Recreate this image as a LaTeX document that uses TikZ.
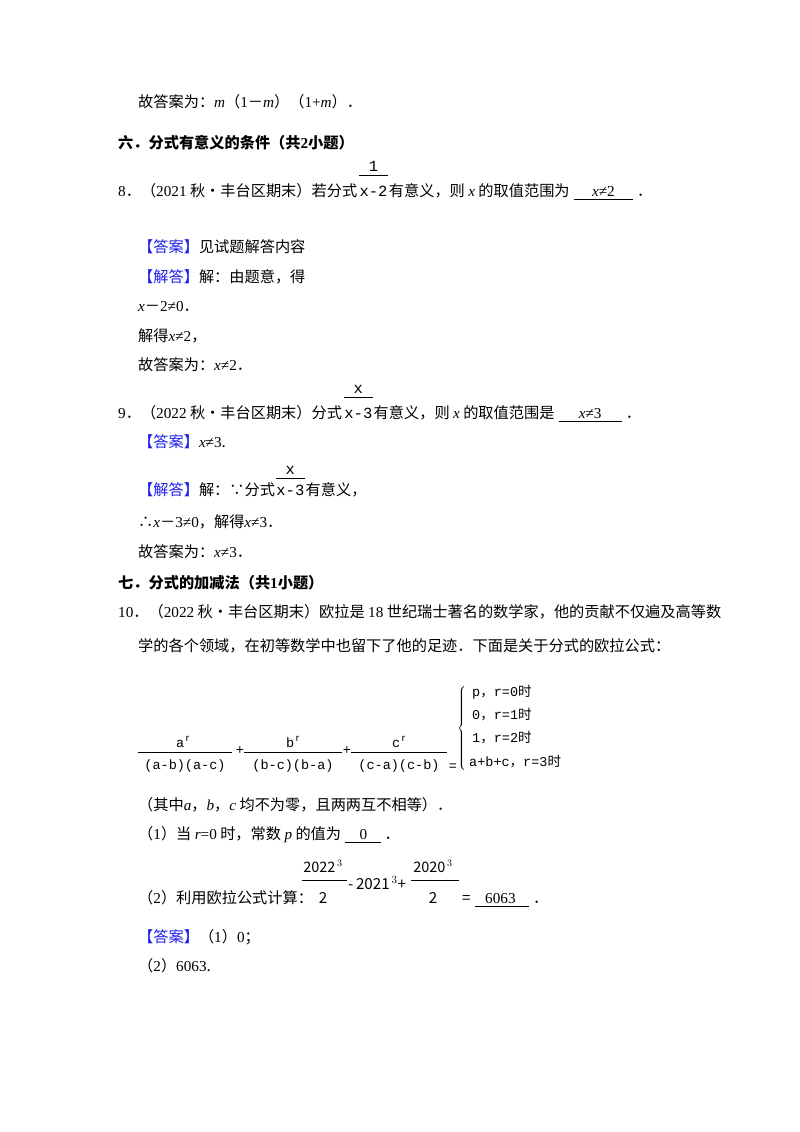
\documentclass[tikz,border=0pt]{standalone}
\usepackage{fontspec}
\setmainfont{Noto Sans CJK SC}
\newfontfamily\cjk{Noto Sans CJK SC}
\newfontfamily\lser{Liberation Serif}
\newfontfamily\lmono{Liberation Mono}
\newcommand{\vr}[1]{{\lser\itshape #1}}
\newcommand{\nm}[1]{{\lser #1}}
\definecolor{ansblue}{RGB}{30,30,235}
\tikzset{t/.style={anchor=base west,inner sep=0pt,font=\fontsize{15.2}{18}\selectfont},
 m/.style={anchor=base,inner sep=0pt,font=\lmono\fontsize{13.5}{15}\selectfont},
 mw/.style={m,anchor=base west},
 fm/.style={mw,font=\lmono\fontsize{15.5}{17}\selectfont},
 ul/.style={line width=0.7pt},fr/.style={line width=0.8pt}}
\newcommand{\ans}[1]{{\color{ansblue}【#1】}}
\begin{document}
\begin{tikzpicture}[x=1pt,y=-1pt]
\useasboundingbox[fill=white] (0,0) rectangle (800,1132);
\node[t] (l1) at (138,107) {故答案为：\vr{m}（\nm{1}－\vr{m}）（\nm{1+}\vr{m}）．};
\node[t,font=\bfseries\fontsize{15.2}{18}\selectfont] (h6) at (118,148) {六．分式有意义的条件（共\nm{\bfseries 2}小题）};
% Q8
\node[t] (q8) at (118,196) {\nm{8}．（\nm{2021} 秋•丰台区期末）若分式};
\node[fm] (f8d) at ([xshift=2pt]q8.base east) {x-2};
\node[fm,anchor=base] (f8n) at ([yshift=25pt]f8d.base) {1};
\draw[fr] ([yshift=21pt]f8d.base west) -- ([yshift=21pt]f8d.base east);
\node[t] (q8b) at ([xshift=1pt]f8d.base east) {有意义，则 \vr{x} 的取值范围为};
\node[t] (a8) at ([xshift=22pt]q8b.base east) {\vr{x}\nm{≠2}};
\draw[ul] ([xshift=-18pt,yshift=-3pt]a8.base west) -- ([xshift=18pt,yshift=-3pt]a8.base east) coordinate (u8);
\node[t] (d8) at ([xshift=4pt]u8|-a8.base) {．};
\node[t] (r1) at (138,252) {\ans{答案}见试题解答内容};
\node[t] (r2) at (138,282) {\ans{解答}解：由题意，得};
\node[t] (r3) at (138,311) {\vr{x}－\nm{2≠0}．};
\node[t] (r4) at (138,341) {解得\vr{x}\nm{≠2}，};
\node[t] (r5) at (138,370) {故答案为：\vr{x}\nm{≠2}．};
% Q9
\node[t] (q9) at (118,418) {\nm{9}．（\nm{2022} 秋•丰台区期末）分式};
\node[fm] (f9d) at ([xshift=2pt]q9.base east) {x-3};
\node[fm,anchor=base] (f9n) at ([yshift=25pt]f9d.base) {x};
\draw[fr] ([yshift=21pt]f9d.base west) -- ([yshift=21pt]f9d.base east);
\node[t] (q9b) at ([xshift=1pt]f9d.base east) {有意义，则 \vr{x} 的取值范围是};
\node[t] (a9) at ([xshift=24pt]q9b.base east) {\vr{x}\nm{≠3}};
\draw[ul] ([xshift=-20pt,yshift=-3pt]a9.base west) -- ([xshift=20pt,yshift=-3pt]a9.base east) coordinate (u9);
\node[t] (d9) at ([xshift=4pt]u9|-a9.base) {．};
\node[t] (s1) at (138,447) {\ans{答案}\vr{x}\nm{≠3}.};
\node[t] (s2) at (138,495) {\ans{解答}解：∵分式};
\node[fm] (g9d) at ([xshift=1pt]s2.base east) {x-3};
\node[fm,anchor=base] (g9n) at ([yshift=21pt]g9d.base) {x};
\draw[fr] ([yshift=17pt]g9d.base west) -- ([yshift=17pt]g9d.base east);
\node[t] (s2b) at ([xshift=1pt]g9d.base east) {有意义，};
\node[t] (s3) at (138,527) {∴\vr{x}－\nm{3≠0}，解得\vr{x}\nm{≠3}．};
\node[t] (s4) at (138,557) {故答案为：\vr{x}\nm{≠3}．};
\node[t,font=\bfseries\fontsize{15.2}{18}\selectfont] (h7) at (118,588) {七．分式的加减法（共\nm{\bfseries 1}小题）};
\node[t] (q10) at (118,617) {\nm{10}．（\nm{2022} 秋•丰台区期末）欧拉是 \nm{18} 世纪瑞士著名的数学家，他的贡献不仅遍及高等数};
\node[t] (q10b) at (138,651) {学的各个领域，在初等数学中也留下了他的足迹．下面是关于分式的欧拉公式：};
% formula
\node[m] (n1) at (183,747) {a$^{\,\mathrm{r}}$};
\draw[fr] (138,752) -- (232,752);
\node[m] (d1) at (185,769) {(a-b)(a-c)};
\node[m] (p1) at (240,754) {+};
\node[m] (n2) at (293,747) {b$^{\,\mathrm{r}}$};
\draw[fr] (244,752) -- (342,752);
\node[m] (d2) at (293,769) {(b-c)(b-a)};
\node[m] (p2) at (347,754) {+};
\node[m] (n3) at (399,747) {c$^{\,\mathrm{r}}$};
\draw[fr] (351,752) -- (447,752);
\node[m] (d3) at (399,769) {(c-a)(c-b)};
\node[m] (eq) at (453,770) {=};
\node[anchor=west,inner sep=0pt] (br) at (457,728) {$\left\{\rule{0pt}{46pt}\right.$};
\node[mw] (c1) at (472,696) {p{\cjk ，}r=0{\cjk 时}};
\node[mw] (c2) at (472,719) {0{\cjk ，}r=1{\cjk 时}};
\node[mw] (c3) at (472,742) {1{\cjk ，}r=2{\cjk 时}};
\node[mw] (c4) at (469,766) {a+b+c{\cjk ，}r=3{\cjk 时}};
\node[t] (w1) at (138,810) {（其中\vr{a}，\vr{b}，\vr{c} 均不为零，且两两互不相等）．};
\node[t] (w2) at (138,839) {（\nm{1}）当 \vr{r}\nm{=0} 时，常数 \vr{p} 的值为};
\node[t] (a1) at ([xshift=18pt]w2.base east) {\nm{0}};
\draw[ul] ([xshift=-14pt,yshift=-3pt]a1.base west) -- ([xshift=14pt,yshift=-3pt]a1.base east) coordinate (u1);
\node[t] (d10) at ([xshift=3pt]u1|-a1.base) {．};
\node[t] (w3) at (138,903) {（\nm{2}）利用欧拉公式计算：};
\node[t,font=\fontsize{14.5}{16}\selectfont,anchor=base] (k1) at (323,872) {2022$^{\,3}$};
\draw[fr] (302,880) -- (347,880);
\node[t,anchor=base] (k1d) at (323,903) {2};
\node[t,anchor=base west] (k2) at (348,889) {-\,2021$^{\,3}$+};
\node[t,font=\fontsize{14.5}{16}\selectfont,anchor=base] (k3) at (433,872) {2020$^{\,3}$};
\draw[fr] (411,880) -- (459,880);
\node[t,anchor=base] (k3d) at (433,903) {2};
\node[t] (k4) at (462,903) {=};
\node[t] (a2) at (485,903) {\nm{6063}};
\draw[ul] (475,906) -- (529,906);
\node[t] (d11) at (533,903) {．};
\node[t] (z1) at (138,942) {\ans{答案}（\nm{1}）\nm{0}；};
\node[t] (z2) at (138,971) {（\nm{2}）\nm{6063}.};
\end{tikzpicture}
\end{document}
